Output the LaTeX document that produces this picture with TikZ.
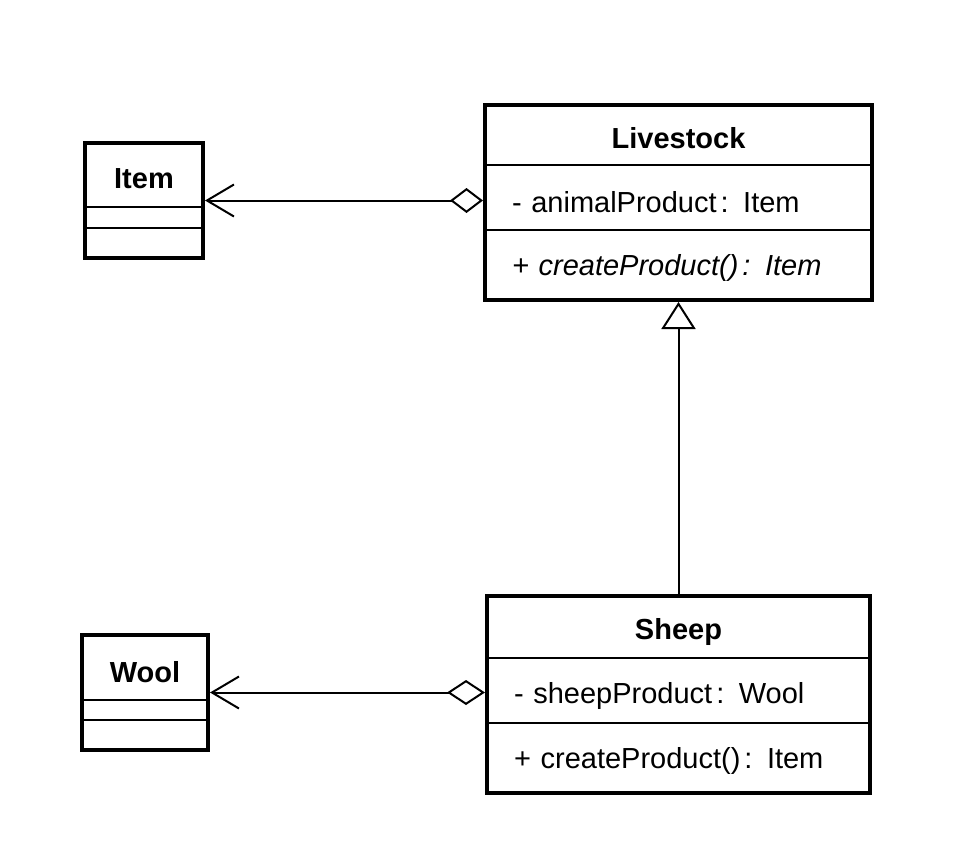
\documentclass[tikz,border=0pt]{standalone}
\usepackage{fontspec}
\setmainfont{Liberation Sans}
\usetikzlibrary{arrows.meta}

\begin{document}
\begin{tikzpicture}[x=1pt, y=-1pt,
  every node/.style={font=\fontsize{29}{34}\selectfont, inner sep=0pt},
  frame/.style={draw, line width=4pt},
  title/.style={font=\fontsize{29}{34}\selectfont\bfseries},
  member/.style={align=left, inner xsep=27pt, minimum height=65pt, text height=30pt, text depth=0pt},
  divider/.style={line width=2pt},
  link/.style={line width=2pt}]
\useasboundingbox (0,0) rectangle (964,854);

% Livestock
\node[frame, minimum width=387pt, minimum height=195pt] (livestock) at (678.5,202.5) {};
\node[title] (livestock-name) at (678.5,138) {Livestock};
\node[member, text width=333pt] (livestock-attr) at (678.5,197.5) {- animalProduct\hspace{4pt}: Item};
\node[member, text width=333pt, minimum height=70pt, text height=24pt, text depth=4pt] (livestock-op) at (678.5,265) {\itshape + createProduct()\hspace{4pt}: Item};
\draw[divider] (livestock-attr.north west) -- (livestock-attr.north east);
\draw[divider] (livestock-op.north west) -- (livestock-op.north east);

% Sheep
\node[frame, minimum width=383pt, minimum height=197pt] (sheep) at (678.5,694.5) {};
\node[title] (sheep-name) at (678.5,632) {Sheep};
\node[member, text width=329pt, text height=28pt, text depth=2pt] (sheep-attr) at (678.5,690.5) {- sheepProduct\hspace{4pt}: Wool};
\node[member, text width=329pt, minimum height=70pt, text height=24pt, text depth=4pt] (sheep-op) at (678.5,758) {+ createProduct()\hspace{4pt}: Item};
\draw[divider] (sheep-attr.north west) -- (sheep-attr.north east);
\draw[divider] (sheep-op.north west) -- (sheep-op.north east);

% Item
\node[frame, minimum width=118pt, minimum height=115pt] (item) at (144,200.5) {};
\node[title] (item-name) at (144,179) {Item};
\node[minimum width=118pt, minimum height=21pt] (item-attr) at (144,217.5) {};
\draw[divider] (item-attr.north west) -- (item-attr.north east);
\draw[divider] (item-attr.south west) -- (item-attr.south east);

% Wool
\node[frame, minimum width=126pt, minimum height=115pt] (wool) at (145,692.5) {};
\node[title] (wool-name) at (145,672) {Wool};
\node[minimum width=126pt, minimum height=20pt] (wool-attr) at (145,710) {};
\draw[divider] (wool-attr.north west) -- (wool-attr.north east);
\draw[divider] (wool-attr.south west) -- (wool-attr.south east);

% relations
\draw[link, {Straight Barb[length=27pt, width=32pt]}-{Diamond[open, fill=white, length=33pt, width=25pt]}] (item.east) -- (livestock.west |- item.east);
\draw[link, {Straight Barb[length=27pt, width=32pt]}-{Diamond[open, fill=white, length=38pt, width=25pt]}] (wool.east) -- (sheep.west |- wool.east);
\draw[link, -{Triangle[open, fill=white, length=27pt, width=34pt]}] (sheep.north) -- (livestock.south);
\end{tikzpicture}
\end{document}
